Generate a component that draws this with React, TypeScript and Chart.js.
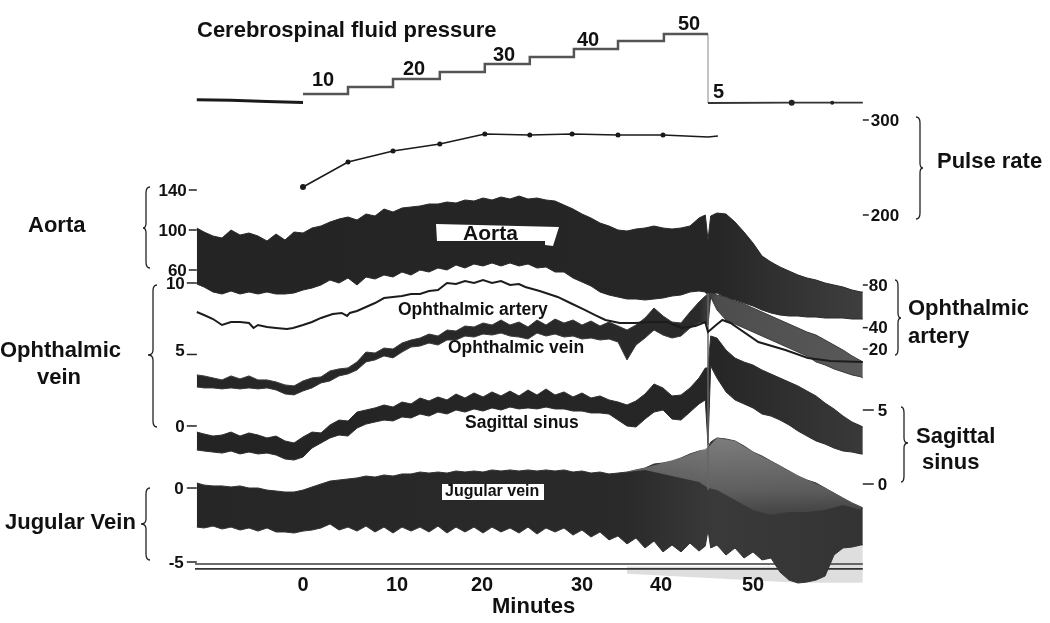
import React, { useEffect, useRef } from "react";
import { Chart, registerables } from "chart.js";
Chart.register(...registerables);

// Shared time base of the band traces, minutes after the start of CSF pressure steps
const minutes = [-11.8,-11,-10,-9,-8,-7,-6,-5,-4,-3,-2,-1,0,
  1,2,3,4,5,6,7,8,9,10,11,12,13,14,15,16,17,18,19,20,21,22,23,24,25,26,27,28,29,30,31,32,33,34,35,36,37,38,39,40,41,42,43,44,
  44.7,45,45.3,46,47,48,49,50,51,52,53,54,55,56,57,58,59,60,61,62,62.2];

// Aorta envelope (mmHg)
const aortaHigh = [102,98,94,92,100,95,97,94,89,96,90,98,97,
  102,104,108,111,113,110,116,114,121,118,122,123,124,126,126,128,127,130,129,132,130,133,131,134,131,132,130,129,125,121,116,112,107,104,100,99,101,102,104,102,101,102,104,112,
  115,90,114,117,116,108,98,87,74,68,63,59,55,52,50,47,45,43,40,38,38];
const aortaLow = [46,43,38,36,39,36,38,36,38,36,36,37,40,
  42,45,50,47,52,45,53,51,55,53,58,55,60,58,62,60,65,62,66,64,67,64,67,64,66,62,63,58,58,52,48,44,38,35,33,31,31,30,31,32,34,35,38,39,
  38,34,36,37,32,30,27,24,20,17,15,14,14,13,13,12,12,12,11,11,11];

// Ophthalmic vein envelope (mmHg)
const veinHigh = [3.57,3.5,3.36,3.22,3.5,3.29,3.5,3.22,3.22,3.08,2.87,2.8,3.15,
  3.36,3.43,3.85,3.99,4.06,4.48,5.17,5.1,5.45,5.38,5.8,6.01,6.15,6.43,6.29,6.71,6.64,6.99,6.92,7.2,7.06,7.41,7.06,7.27,6.92,7.41,7.06,7.48,7.2,7.41,7.06,7.34,6.99,7.27,6.99,6.71,7.06,7.55,8.25,7.69,7.27,7.2,7.97,8.67,
  9.09,9.16,9.3,9.16,9.02,8.74,8.53,8.25,7.97,7.69,7.41,7.13,6.85,6.57,6.36,6.01,5.66,5.31,4.9,4.55,4.48];
const veinLow = [2.73,2.66,2.66,2.59,2.66,2.59,2.66,2.59,2.66,2.52,2.24,2.17,2.45,
  2.66,3.01,3.15,3.5,3.64,3.92,4.48,4.62,4.9,4.76,5.17,5.52,5.59,5.8,5.66,6.01,6.01,6.29,6.22,6.43,6.36,6.5,6.29,6.22,6.08,6.5,6.29,6.43,6.22,6.29,6.08,6.15,6.01,6.08,5.87,4.62,5.66,6.15,6.71,6.36,6.15,6.29,6.85,7.2,
  7.27,7.06,9.02,8.11,7.41,7.13,6.85,6.57,6.29,6.01,5.73,5.45,5.17,4.9,4.48,4.27,3.99,3.78,3.57,3.43,3.36];

// Sagittal sinus envelope (mmHg)
const sinusHigh = [3.51,3.38,3.24,3.31,3.51,3.24,3.45,3.31,3.11,3.24,2.91,2.77,3.18,
  3.51,3.45,3.99,4.32,4.26,4.86,5,5.14,5.34,5.2,5.54,5.41,5.81,5.61,5.88,5.68,6.08,5.81,6.15,5.88,6.22,5.95,6.28,5.95,6.35,6.01,6.42,6.01,6.22,5.88,6.15,5.81,5.95,5.68,5.54,5.34,5.61,6.08,6.76,6.49,5.95,6.01,6.49,7.16,
  7.84,7.84,10,9.86,9.05,8.51,8.24,8.04,7.7,7.43,7.16,6.89,6.62,6.28,5.95,5.47,5.07,4.59,4.19,3.92,3.85];
const sinusLow = [2.3,2.23,2.16,2.09,2.23,2.03,2.16,2.03,2.09,1.96,1.69,1.62,1.82,
  2.43,2.77,3.11,3.31,3.24,3.78,4.05,4.19,4.32,4.26,4.53,4.46,4.73,4.59,4.86,4.73,5,4.86,5.07,4.93,5.14,5,5.2,5.07,5.14,5.07,5.2,5.07,5.07,4.93,4.93,4.8,4.8,4.73,4.32,3.92,3.85,4.39,4.86,5,4.39,4.32,4.86,5.41,
  5.68,2.64,7.97,7.16,6.22,5.68,5.41,5.14,4.73,4.59,4.32,3.99,3.58,3.24,2.91,2.7,2.43,2.23,2.16,2.03,2.03];

// Jugular vein envelope (mmHg)
const jugularHigh = [0.34,0.2,0.14,0.14,0.07,0.14,0,0,-0.14,-0.2,-0.27,-0.27,-0.14,
  0.07,0.27,0.47,0.54,0.61,0.68,0.81,0.74,0.88,0.81,0.95,0.95,1.08,1.01,1.08,1.01,1.15,1.08,1.15,1.08,1.22,1.15,1.22,1.15,1.22,1.15,1.22,1.15,1.22,1.08,1.15,1.01,1.08,0.95,1.01,1.08,1.22,1.35,1.62,1.69,1.82,2.03,2.3,2.5,
  2.57,2.7,3.11,3.38,3.31,3.18,2.84,2.43,2.16,1.82,1.49,1.15,0.81,0.54,0.34,0,-0.34,-0.68,-1.01,-1.28,-1.35];
const jugularLow = [-2.64,-2.7,-2.57,-2.77,-2.64,-2.84,-2.7,-2.91,-2.7,-2.97,-2.97,-3.04,-2.91,
  -2.84,-2.7,-2.43,-2.84,-2.64,-2.91,-2.57,-2.97,-2.64,-3.04,-2.64,-2.91,-2.64,-2.97,-2.57,-3.04,-2.64,-2.97,-2.64,-3.04,-2.64,-2.97,-2.7,-3.04,-2.64,-3.11,-2.7,-2.97,-2.7,-3.18,-2.84,-3.31,-2.97,-3.51,-3.24,-3.78,-3.38,-4.05,-3.58,-4.32,-3.85,-4.32,-3.72,-4.26,
  -3.92,-2.84,-4.05,-3.85,-4.53,-4.05,-4.73,-4.32,-4.86,-4.73,-5.68,-6.22,-6.42,-6.35,-6.22,-5.95,-4.53,-4.05,-3.99,-3.85,-3.85];

// Paler upper part of the jugular trace late in the record
const paleMinutes = [36,38,40,42,44,45,46,48,50,52,54,56,58,60,62];
const paleHigh = [1.08,1.35,1.69,2.03,2.5,2.7,3.38,3.18,2.43,1.82,1.15,0.54,0,-0.68,-1.28];
const paleLow = [1.08,1.22,0.95,0.68,0.41,0,-0.14,-0.81,-1.49,-1.82,-1.62,-1.62,-1.49,-1.15,-1.49];

// Faint smear under the jugular trace
const smearMinutes = [36,55,57.5,62.2];
const smearHigh = [-5.3,-5.3,-3.9,-3.9];
const smearLow = [-5.8,-6.4,-6.4,-6.4];

// Ophthalmic artery (mmHg)
const arteryMinutes = [-11.8,-11,-10,-9,-8,-7,-6,-5.5,-5,-4,-3,-1.8,-1.1,0,1,2,3.3,4.3,4.9,5.2,6,7,8,9,10,11,12,13,14,15,16,17,18,19,20,21,22,23,24,24.7,26.3,28.3,29.7,31.3,32.4,33.6,35.2,36.9,38.6,40.5,42.1,43.6,44.7,45,45.9,46.6,47.5,50.6,53.6,56.1,58.6,62.2];
const arteryValues = [54.7,51.9,48.1,42.5,45.3,45.3,44.4,39.7,42.5,40.6,39.7,38.8,39.7,42.5,45.3,49.1,52.8,53.8,51,53.8,55.6,59.4,63.1,67.8,68.8,69.7,71.6,71.6,74.4,75.3,81.9,80.9,83.7,81.9,84.7,81.9,83.7,80,80.9,78.1,74.4,68.8,63.1,56.6,51.9,47.2,44.4,44.4,45.3,45.3,39.7,41.6,45.3,36,42.5,47.2,44.4,26.6,19.1,11.6,8.8,7.8];

// Pulse rate (beats/min)
const pulseMinutes = [0,5,10,15.2,20.2,25.2,29.9,35,40,45,46.1];
const pulseValues = [229.5,255.8,267.4,274.7,285.3,284.2,285.3,284.2,284.2,282.1,283.2];

// Cerebrospinal fluid pressure
const csfBaseMinutes = [-11.8,-8,-4,0];
const csfBaseValues = [6.2,5.8,5,4.4];
const csfStepMinutes = [0,5,10,15.2,20.2,25.2,30.1,35,40.1,45];
const csfStepValues = [10,14.7,20,24.7,30,34.7,40,45.3,50,50];
const csfAfterMinutes = [45,54.3,58.8,62.2];
const csfAfterValues = [4,4.2,4.2,4.2];

const FONT = '"Liberation Sans", Arial, sans-serif';
const INK = "#111";

const axisLimits = {
  x: [-33.667, 83],
  csf: [-342.67, 72.67],
  pulse: [-229.5, 426.3],
  aorta: [-293, 330],
  vein: [-13.78, 29.79],
  artery: [-236.8, 347.1],
  sinus: [-9.39, 32.7],
  jugular: [-9.12, 32.97],
};

// Tick labels of each axis: scale, values, side, mark length, gap to label, label nudge
const axisTicks = [
  { scale: "aorta", ticks: [140, 100, 60], side: "left", mark: 8, gap: 2, nudge: [0, 0, 0] },
  { scale: "vein", ticks: [10, 5, 0], side: "left", mark: 10, gap: 2, nudge: [0, -4, 0] },
  { scale: "jugular", ticks: [0, -5], side: "left", mark: 10, gap: 3, nudge: [0, 0] },
  { scale: "pulse", ticks: [300, 200], side: "right", mark: 6, gap: 2, nudge: [0, 0] },
  { scale: "artery", ticks: [80, 40, 20], side: "right", mark: 5, gap: 1, nudge: [0, 0, 0] },
  { scale: "sinus", ticks: [5, 0], side: "right", mark: 11, gap: 4, nudge: [0, 0] },
];
const minuteTicks = [0, 10, 20, 30, 40, 50];
const minuteNudge = [0, 4, -1, 9, -2, 0];

const captions = [
  { t: "Cerebrospinal fluid pressure", x: 197, y: 31, s: 22 },
  { t: "10", x: 312, y: 80, s: 20 },
  { t: "20", x: 403, y: 69, s: 20 },
  { t: "30", x: 493, y: 55, s: 20 },
  { t: "40", x: 577, y: 40, s: 20 },
  { t: "50", x: 678, y: 24, s: 20 },
  { t: "5", x: 713, y: 92, s: 20 },
  { t: "Aorta", x: 28, y: 226, s: 22 },
  { t: "Ophthalmic", x: 0, y: 351, s: 22 },
  { t: "vein", x: 37, y: 378, s: 22 },
  { t: "Jugular Vein", x: 5, y: 523, s: 22 },
  { t: "Pulse rate", x: 937, y: 162, s: 22 },
  { t: "Ophthalmic", x: 908, y: 309, s: 22 },
  { t: "artery", x: 908, y: 337, s: 22 },
  { t: "Sagittal", x: 916, y: 437, s: 22 },
  { t: "sinus", x: 922, y: 463, s: 22 },
  { t: "Aorta", x: 463, y: 234, s: 21 },
  { t: "Ophthalmic artery", x: 398, y: 310, s: 17.5 },
  { t: "Ophthalmic vein", x: 448, y: 348, s: 17.5 },
  { t: "Sagittal sinus", x: 465, y: 423, s: 17.5 },
  { t: "Jugular vein", x: 445, y: 492, s: 16 },
  { t: "Minutes", x: 492, y: 607, s: 22 },
];

// Curly brackets: spine x, tip x, end x, top, tip y, bottom
const brackets = [
  [146, 143, 150, 187, 228, 268],
  [153, 148, 157, 285, 355, 427],
  [146, 141, 150, 488, 524, 560],
  [920, 923, 916, 117, 168, 219],
  [898, 901, 895, 280, 318, 355],
  [904, 908, 901, 407, 443, 482],
];

const pts = (xs: number[], ys: number[]) => xs.map((x, i) => ({ x, y: ys[i] }));

const line = (label: string, yAxisID: string, xs: number[], ys: number[], color: string, width: number, extra = {}) => ({
  label,
  yAxisID,
  data: pts(xs, ys),
  borderColor: color,
  borderWidth: width,
  pointRadius: 0,
  fill: false,
  tension: 0,
  ...extra,
});

const fade = (stops: [number, string][]) => (c: any) => {
  const w = c.chart.width || 1050;
  const [lo, hi] = axisLimits.x;
  const px = (m: number) => ((m - lo) / (hi - lo)) * w;
  const g = c.chart.ctx.createLinearGradient(px(-12), 0, px(63), 0);
  stops.forEach(([m, col]) => g.addColorStop((m + 12) / 75, col));
  return g;
};

// Pale wash of the jugular peak, strongest at its crest and gone by the trace's middle
const paleWash = (c: any) => {
  const g = c.chart.ctx.createLinearGradient(0, 438, 0, 525);
  g.addColorStop(0, "rgba(165,165,165,0.62)");
  g.addColorStop(0.6, "rgba(165,165,165,0.35)");
  g.addColorStop(1, "rgba(165,165,165,0)");
  return g;
};

const band = (label: string, yAxisID: string, xs: number[], hi: number[], lo: number[], fillColor: any, edge: string) => [
  line(label + " upper", yAxisID, xs, hi, edge, 1),
  line(label + " lower", yAxisID, xs, lo, edge, 1, { fill: "-1", backgroundColor: fillColor }),
];

const decorations = {
  id: "decorations",
  afterDatasetsDraw(chart: any) {
    const { ctx, scales } = chart;
    const left = scales.x.getPixelForValue(-11.8);
    const right = scales.x.getPixelForValue(62.2);
    ctx.save();
    // white label patches
    ctx.fillStyle = "#fff";
    ctx.beginPath();
    ctx.moveTo(436, 224); ctx.lineTo(559, 227); ctx.lineTo(553, 246); ctx.lineTo(545, 245);
    ctx.lineTo(545, 241); ctx.lineTo(437, 241); ctx.closePath(); ctx.fill();
    ctx.fillRect(442, 484, 102, 16);
    // axis ticks
    ctx.strokeStyle = "#222";
    ctx.lineWidth = 1.5;
    ctx.fillStyle = INK;
    ctx.textBaseline = "middle";
    ctx.font = `bold 17px ${FONT}`;
    axisTicks.forEach((a) => {
      a.ticks.forEach((v, i) => {
        const y = scales[a.scale].getPixelForValue(v);
        const x0 = a.side === "left" ? left : right;
        const x1 = a.side === "left" ? x0 - a.mark : x0 + a.mark;
        ctx.beginPath(); ctx.moveTo(x0, y); ctx.lineTo(x1, y); ctx.stroke();
        ctx.textAlign = a.side === "left" ? "right" : "left";
        ctx.fillText(String(v), a.side === "left" ? x1 - a.gap : x1 + a.gap, y + a.nudge[i] + 1);
      });
    });
    // minute labels
    ctx.textAlign = "center";
    ctx.font = `bold 20px ${FONT}`;
    minuteTicks.forEach((m, i) => ctx.fillText(String(m), scales.x.getPixelForValue(m) + minuteNudge[i], 585));
    // captions
    ctx.textAlign = "left";
    captions.forEach((c) => {
      ctx.font = `bold ${c.s}px ${FONT}`;
      ctx.fillText(c.t, c.x, c.y);
    });
    // brackets
    ctx.lineWidth = 1.3;
    ctx.strokeStyle = "#222";
    brackets.forEach(([sp, tip, end, top, mid, bot]) => {
      ctx.beginPath();
      ctx.moveTo(end, top);
      ctx.quadraticCurveTo(sp, top, sp, top + 6);
      ctx.lineTo(sp, mid - 5);
      ctx.quadraticCurveTo(sp, mid, tip, mid);
      ctx.quadraticCurveTo(sp, mid, sp, mid + 5);
      ctx.lineTo(sp, bot - 6);
      ctx.quadraticCurveTo(sp, bot, end, bot);
      ctx.stroke();
    });
    ctx.restore();
  },
};

export default function App() {
  const ref = useRef<HTMLCanvasElement>(null);
  useEffect(() => {
    if (!ref.current) return;
    const yScale = (k: keyof typeof axisLimits) => ({
      type: "linear",
      display: false,
      min: axisLimits[k][0],
      max: axisLimits[k][1],
    });
    const datasets: any[] = [
      line("Ophthalmic artery", "artery", arteryMinutes, arteryValues, "#1c1c1c", 2),
      line("Pulse rate", "pulse", pulseMinutes, pulseValues, "#1a1a1a", 1.6, {
        pointRadius: [3, 2.5, 2.5, 2.5, 2.5, 2.5, 2.5, 2.5, 2.5, 0, 0],
        pointBackgroundColor: "#1a1a1a",
        pointBorderWidth: 0,
      }),
      line("CSF baseline", "csf", csfBaseMinutes, csfBaseValues, "#1a1a1a", 3),
      line("CSF steps", "csf", csfStepMinutes, csfStepValues, "#555", 2.5, { stepped: "before" }),
      line("CSF after", "csf", csfAfterMinutes, csfAfterValues, "#333", 1.8, {
        pointRadius: [0, 3, 2, 0],
        pointBackgroundColor: "#222",
        pointBorderWidth: 0,
      }),
      line("CSF release", "csf", [45, 45], [50, 4], "#bbb", 1),
      line("Marker", "sinus", [45, 45], [12.9, -0.4], "#666", 1.5),
      ...band("Sagittal sinus", "sinus", minutes, sinusHigh, sinusLow,
        fade([[-12, "#242424"], [46, "#262626"], [63, "#3a3a3a"]]), "#2e2e2e"),
      ...band("Ophthalmic vein", "vein", minutes, veinHigh, veinLow,
        fade([[-12, "#262626"], [44, "#2a2a2a"], [46, "#4d4d4d"], [63, "#5a5a5a"]]), "#3a3a3a"),
      line("Jugular pale upper", "jugular", paleMinutes, paleHigh, "rgba(120,120,120,0.3)", 1),
      line("Jugular pale lower", "jugular", paleMinutes, paleLow, "rgba(120,120,120,0)", 0, {
        fill: "-1", backgroundColor: paleWash,
      }),
      ...band("Jugular vein", "jugular", minutes, jugularHigh, jugularLow,
        fade([[-12, "#262626"], [36, "#2a2a2a"], [46, "#3a3a3a"], [63, "#333"]]), "#333"),
      line("Record line 1", "jugular", [-12, 62.2], [-5.14, -5.14], "#3c3c3c", 1.5),
      line("Record line 2", "jugular", [-12, 62.2], [-5.47, -5.47], "#333", 1.8),
      line("Smear upper", "jugular", smearMinutes, smearHigh, "rgba(0,0,0,0)", 0),
      line("Smear lower", "jugular", smearMinutes, smearLow, "rgba(0,0,0,0)", 0, {
        fill: "-1", backgroundColor: "rgba(0,0,0,0.13)",
      }),
      ...band("Aorta", "aorta", minutes, aortaHigh, aortaLow,
        fade([[-12, "#242424"], [46, "#262626"], [63, "#404040"]]), "#2a2a2a"),
    ];
    const chart = new Chart(ref.current, {
      type: "line",
      data: { datasets },
      plugins: [decorations],
      options: {
        animation: false,
        responsive: false,
        layout: { padding: 0, autoPadding: false },
        plugins: { legend: { display: false }, tooltip: { enabled: false } },
        scales: {
          x: { type: "linear", display: false, min: axisLimits.x[0], max: axisLimits.x[1] },
          csf: yScale("csf"),
          pulse: yScale("pulse"),
          aorta: yScale("aorta"),
          vein: yScale("vein"),
          artery: yScale("artery"),
          sinus: yScale("sinus"),
          jugular: yScale("jugular"),
        },
      },
    } as any);
    return () => chart.destroy();
  }, []);
  return (
    <div style={{ position: "absolute", left: 0, top: 0, width: 1050, height: 623, background: "#fff" }}>
      <canvas ref={ref} width={1050} height={623} style={{ display: "block" }} />
    </div>
  );
}
